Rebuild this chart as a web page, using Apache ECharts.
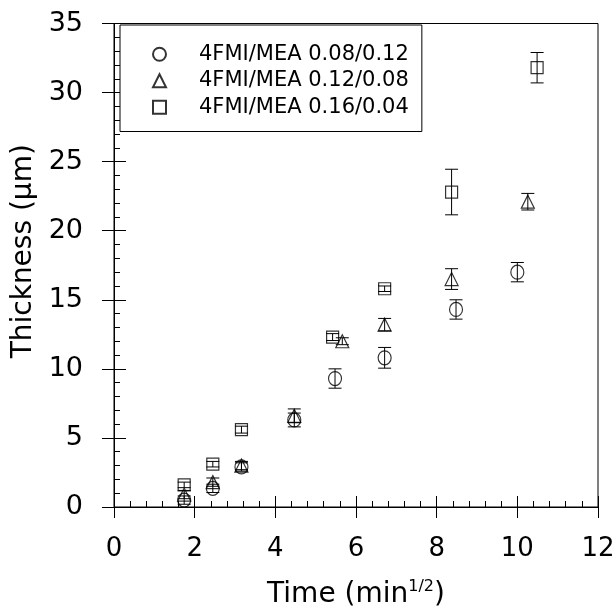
<!DOCTYPE html>
<html>
<head>
<meta charset="utf-8">
<script src="https://cdn.jsdelivr.net/npm/echarts@6/dist/echarts.min.js"></script>
<style>
html,body{margin:0;padding:0;background:#fff;}
#chart{width:616px;height:609px;}
</style>
</head>
<body>
<div id="chart"></div>
<script>
// ---- data ----
const seriesNames = ['4FMI/MEA 0.08/0.12', '4FMI/MEA 0.12/0.08', '4FMI/MEA 0.16/0.04'];

const circleX   = [1.74, 2.45, 3.16, 4.47, 5.48, 6.71, 8.48, 10.0];
const circleY   = [0.5, 1.35, 2.9, 6.3, 9.3, 10.8, 14.3, 17.0];
const circleErr = [0.3, 0.3, 0.3, 0.5, 0.7, 0.75, 0.7, 0.7];

const triX   = [1.74, 2.45, 3.16, 4.47, 5.66, 6.71, 8.37, 10.26];
const triY   = [0.9, 1.8, 3.0, 6.6, 12.0, 13.2, 16.5, 22.1];
const triErr = [0.3, 0.3, 0.3, 0.5, 0.25, 0.45, 0.75, 0.6];

const sqX   = [1.74, 2.45, 3.16, 5.42, 6.71, 8.37, 10.49];
const sqY   = [1.6, 3.1, 5.6, 12.3, 15.8, 22.8, 31.8];
const sqErr = [0.2, 0.2, 0.25, 0.25, 0.2, 1.65, 1.1];

const xTicks = [0, 2, 4, 6, 8, 10, 12];
const yTicks = [0, 5, 10, 15, 20, 25, 30, 35];

// ---- build ----
const FONT = 'DejaVu Sans';
function pts(xs, ys) { return xs.map((x, i) => [x, ys[i]]); }
function errs(xs, ys, es) { return xs.map((x, i) => [x, ys[i] - es[i], ys[i] + es[i]]); }

function errorSeries(data) {
  return {
    type: 'custom',
    xAxisIndex: 0, yAxisIndex: 0,
    silent: true,
    z: 5,
    data: data,
    renderItem: function (params, api) {
      const x = api.value(0);
      const lo = api.coord([x, api.value(1)]);
      const hi = api.coord([x, api.value(2)]);
      const hw = 6.5;
      const st = { stroke: '#000', lineWidth: 1 };
      return {
        type: 'group',
        children: [
          { type: 'line', shape: { x1: lo[0], y1: lo[1], x2: hi[0], y2: hi[1] }, style: st },
          { type: 'line', shape: { x1: lo[0] - hw, y1: lo[1], x2: lo[0] + hw, y2: lo[1] }, style: st },
          { type: 'line', shape: { x1: hi[0] - hw, y1: hi[1], x2: hi[0] + hw, y2: hi[1] }, style: st }
        ]
      };
    }
  };
}

const markerStyle = { color: 'rgba(255,255,255,0)', borderColor: '#000', borderWidth: 1.2 };

const chart = echarts.init(document.getElementById('chart'));
chart.setOption({
  animation: false,
  backgroundColor: '#fff',
  textStyle: { fontFamily: FONT, color: '#000' },
  grid: {
    left: 114, right: 18, top: 23.5, bottom: 102,
    containLabel: false, outerBoundsMode: 'none',
    show: true, borderColor: '#000', borderWidth: 1, backgroundColor: 'transparent'
  },
  legend: {
    orient: 'vertical',
    left: 120, top: 25,
    padding: [16, 13, 11, 32],
    itemGap: 0,
    itemWidth: 13, itemHeight: 13,
    borderColor: '#000', borderWidth: 1,
    backgroundColor: '#fff',
    textStyle: { fontFamily: FONT, fontSize: 21, color: '#000', padding: [0, 0, 0, 28], lineHeight: 26.5 },
    data: seriesNames
  },
  xAxis: [
    {
      type: 'value', min: xTicks[0], max: xTicks[xTicks.length - 1], interval: 2,
      position: 'bottom',
      axisLine: { show: true, onZero: false, lineStyle: { color: '#000', width: 1 } },
      axisTick: { show: true, inside: false, length: 11, lineStyle: { color: '#000' } },
      axisLabel: { fontFamily: FONT, fontSize: 26, color: '#000', margin: 29 },
      splitLine: { show: false },
      name: 'Time (min{sup|1/2})',
      nameLocation: 'middle', nameGap: 72,
      nameTextStyle: {
        fontFamily: FONT, fontSize: 28, color: '#000',
        rich: { sup: { fontFamily: FONT, fontSize: 16, color: '#000', verticalAlign: 'top', padding: [0, 0, 16, 0] } }
      }
    },
    {
      type: 'value', min: xTicks[0], max: xTicks[xTicks.length - 1], interval: 2,
      position: 'bottom',
      axisLine: { show: false, onZero: false },
      axisTick: { show: true, inside: true, length: 11, lineStyle: { color: '#000' } },
      minorTick: { show: true, splitNumber: 5, length: 6, lineStyle: { color: '#000' } },
      axisLabel: { show: false },
      splitLine: { show: false }
    }
  ],
  yAxis: [
    {
      type: 'value', min: yTicks[0], max: yTicks[yTicks.length - 1], interval: 5,
      position: 'left',
      axisLine: { show: true, onZero: false, lineStyle: { color: '#000', width: 1 } },
      axisTick: { show: true, inside: false, length: 12, lineStyle: { color: '#000' } },
      axisLabel: { fontFamily: FONT, fontSize: 27, color: '#000', margin: 31 },
      splitLine: { show: false },
      name: 'Thickness (µm)',
      nameLocation: 'middle', nameGap: 70, nameRotate: 90,
      nameTextStyle: { fontFamily: FONT, fontSize: 28, color: '#000', padding: [0, 0, 0, 28] }
    },
    {
      type: 'value', min: yTicks[0], max: yTicks[yTicks.length - 1], interval: 5,
      position: 'left',
      axisLine: { show: false, onZero: false },
      axisTick: { show: true, inside: true, length: 12, lineStyle: { color: '#000' } },
      minorTick: { show: true, splitNumber: 5, length: 6, lineStyle: { color: '#000' } },
      axisLabel: { show: false },
      splitLine: { show: false }
    }
  ],
  series: [
    { name: seriesNames[0], type: 'scatter', symbol: 'circle', symbolSize: [13, 14], itemStyle: markerStyle, data: pts(circleX, circleY), z: 3 },
    { name: seriesNames[1], type: 'scatter', symbol: 'triangle', symbolSize: 13, itemStyle: markerStyle, data: pts(triX, triY), z: 3 },
    { name: seriesNames[2], type: 'scatter', symbol: 'rect', symbolSize: 12, itemStyle: markerStyle, data: pts(sqX, sqY), z: 3 },
    errorSeries(errs(circleX, circleY, circleErr)),
    errorSeries(errs(triX, triY, triErr)),
    errorSeries(errs(sqX, sqY, sqErr))
  ]
});
</script>
</body>
</html>
